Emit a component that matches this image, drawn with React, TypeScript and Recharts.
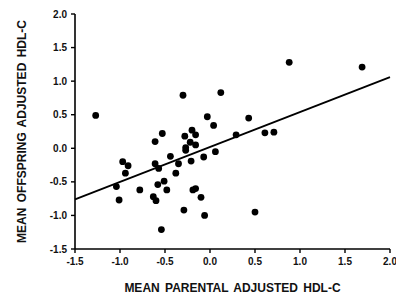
import React from 'react';
import { ScatterChart, Scatter, XAxis, YAxis, ReferenceLine, Label } from 'recharts';

const parentalX = [
  -1.27, -1.04, -1.01, -0.97, -0.91, -0.94, -0.78, -0.63, -0.60, -0.61,
  -0.57, -0.61, -0.53, -0.58, -0.51, -0.48, -0.54, -0.44, -0.35, -0.38,
  -0.30, -0.28, -0.20, -0.16, -0.22, -0.27, -0.27, -0.16, -0.21, -0.29,
  -0.19, -0.16, -0.10, -0.06, -0.07, 0.06, -0.03, 0.04, 0.12, 0.29,
  0.43, 0.61, 0.71, 0.50, 0.88, 1.69,
];
const offspringY = [
  0.49, -0.57, -0.77, -0.20, -0.26, -0.37, -0.62, -0.72, -0.78, -0.23,
  -0.30, 0.10, 0.22, -0.54, -0.49, -0.62, -1.21, -0.12, -0.23, -0.37,
  0.79, 0.18, 0.27, 0.20, 0.09, 0.01, -0.03, 0.05, -0.19, -0.92,
  -0.62, -0.60, -0.73, -1.00, -0.13, -0.05, 0.47, 0.34, 0.83, 0.20,
  0.45, 0.23, 0.24, -0.95, 1.28, 1.21,
];
const regressionX = [-1.5, 2.0];
const regressionY = [-0.76, 1.06];
const xTicks = [-1.5, -1.0, -0.5, 0.0, 0.5, 1.0, 1.5, 2.0];
const yTicks = [-1.5, -1.0, -0.5, 0.0, 0.5, 1.0, 1.5, 2.0];

const points = parentalX.map((x, i) => ({ x, y: offspringY[i] }));
const regSegment = regressionX.map((x, i) => ({ x, y: regressionY[i] }));

const FONT = '"Liberation Sans", Arial, Helvetica, sans-serif';
const INK = '#111';

const Dot = (props: any) => {
  const { cx, cy } = props;
  if (cx == null || cy == null) return <g />;
  return <circle cx={cx} cy={cy} r={3.4} fill="#000" />;
};

export default function App() {
  return (
    <div style={{ position: 'absolute', left: 0, top: 0, background: '#fff' }}>
      <ScatterChart
        width={396}
        height={299}
        margin={{ top: 14, right: 6, bottom: 0, left: 0 }}
      >
        <XAxis
          type="number"
          dataKey="x"
          domain={[-1.5, 2]}
          ticks={xTicks}
          interval={0}
          tickFormatter={(v: number) => v.toFixed(1)}
          height={50}
          axisLine={{ stroke: '#000', strokeWidth: 1.6 }}
          tickLine={{ stroke: '#000', strokeWidth: 1.4 }}
          tickSize={4}
          tickMargin={5}
          tick={{ fill: INK, fontSize: 10, fontWeight: 700, fontFamily: FONT }}
        >
          <Label
            value="MEAN PARENTAL ADJUSTED HDL-C"
            position="insideBottom"
            offset={7}
            style={{ fill: INK, fontSize: 12, fontWeight: 700, fontFamily: FONT, wordSpacing: 2 }}
          />
        </XAxis>
        <YAxis
          type="number"
          dataKey="y"
          domain={[-1.5, 2]}
          ticks={yTicks}
          interval={0}
          tickFormatter={(v: number) => v.toFixed(1)}
          width={75}
          axisLine={{ stroke: '#000', strokeWidth: 1.6 }}
          tickLine={{ stroke: '#000', strokeWidth: 1.4 }}
          tickSize={4}
          tickMargin={4}
          tick={{ fill: INK, fontSize: 10, fontWeight: 700, fontFamily: FONT }}
        >
          <Label
            content={() => (
              <text
                x={22}
                y={131.5}
                transform="rotate(-90 22 131.5)"
                textAnchor="middle"
                dominantBaseline="central"
                style={{ fill: INK, fontSize: 12, fontWeight: 700, fontFamily: FONT, wordSpacing: 2 }}
              >
                MEAN OFFSPRING ADJUSTED HDL-C
              </text>
            )}
          />
        </YAxis>
        <ReferenceLine
          segment={regSegment}
          stroke="#000"
          strokeWidth={1.8}
          ifOverflow="visible"
        />
        <Scatter data={points} shape={Dot} isAnimationActive={false} />
      </ScatterChart>
    </div>
  );
}
